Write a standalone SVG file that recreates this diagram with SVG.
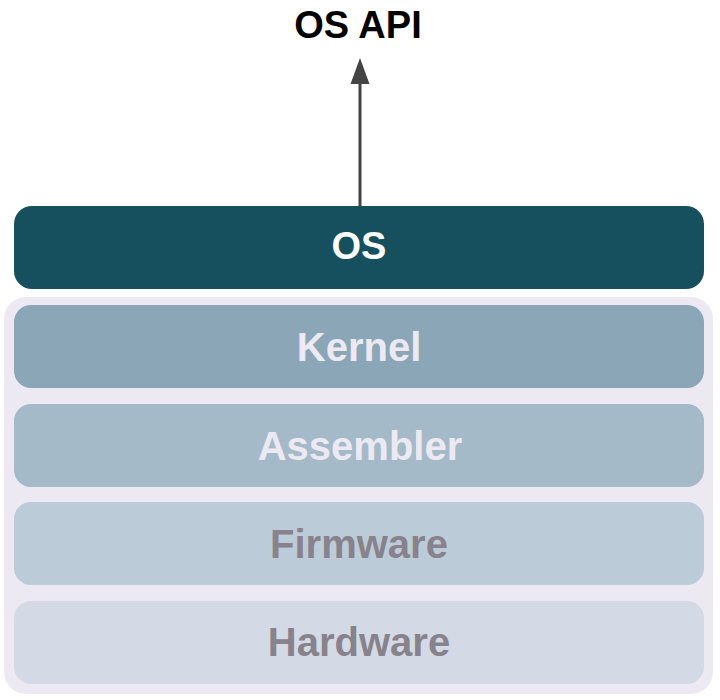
<svg xmlns="http://www.w3.org/2000/svg" width="720" height="700" viewBox="0 0 720 700">
  <style>
    text { font-family: "Liberation Sans", Arial, sans-serif; font-weight: bold; text-anchor: middle; }
    .layer-light { fill: #ece9f3; }
    .layer-dark { fill: #87828b; }
    .layer-text { font-size: 40px; }
  </style>
  <rect width="720" height="700" fill="#ffffff"/>
  <g id="label-os-api">
    <text x="358" y="38" font-size="38" fill="#000000">OS API</text>
  </g>
  <g id="connectors">
    <line x1="360" y1="206" x2="360" y2="80" stroke="#444444" stroke-width="3"/>
    <path d="M350.5,84 L369.5,84 L360,58 Z" fill="#444444"/>
  </g>
  <g id="os">
    <rect x="14" y="206" width="690" height="83" rx="18" fill="#164f5e"/>
    <text x="359" y="259" font-size="38" fill="#ffffff">OS</text>
  </g>
  <g id="stack">
    <rect x="4" y="297" width="709" height="397" rx="22" fill="#ece9f3"/>
  </g>
  <g id="kernel">
    <rect x="14" y="305" width="690" height="83" rx="17" fill="#8aa6b7"/>
    <text x="359" y="361" class="layer-text layer-light">Kernel</text>
  </g>
  <g id="assembler">
    <rect x="14" y="404" width="690" height="83" rx="17" fill="#a4bac8"/>
    <text x="360" y="460" class="layer-text layer-light">Assembler</text>
  </g>
  <g id="firmware">
    <rect x="14" y="502" width="690" height="83" rx="17" fill="#bccbd8"/>
    <text x="359" y="558" class="layer-text layer-dark">Firmware</text>
  </g>
  <g id="hardware">
    <rect x="14" y="601" width="690" height="83" rx="17" fill="#d3dae5"/>
    <text x="359" y="656" class="layer-text layer-dark">Hardware</text>
  </g>
</svg>
